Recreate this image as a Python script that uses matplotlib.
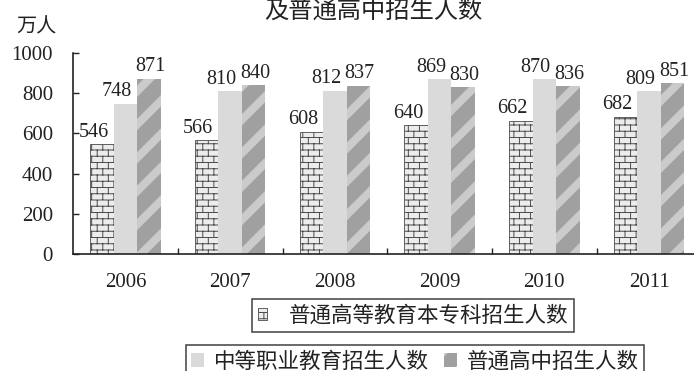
import warnings
import numpy as np
import matplotlib
matplotlib.use('Agg')
import matplotlib.pyplot as plt
from matplotlib import hatch as mhatch
from matplotlib.path import Path
from matplotlib.patches import Patch

warnings.filterwarnings('ignore')

# ---------------- data ----------------
years = ['2006', '2007', '2008', '2009', '2010', '2011']
higher_edu = [546, 566, 608, 640, 662, 682]      # 普通高等教育本专科招生人数
vocational = [748, 810, 812, 869, 870, 809]      # 中等职业教育招生人数
high_school = [871, 840, 837, 830, 836, 851]     # 普通高中招生人数
series_names = ['普通高等教育本专科招生人数', '中等职业教育招生人数', '普通高中招生人数']
yticks = [0, 200, 400, 600, 800, 1000]
title_text = '及普通高中招生人数'
unit_text = '万人'

# ---------------- custom hatches ----------------
class BrickHatch(mhatch.HatchPatternBase):
    def __init__(self, hatch, density):
        self.rows = 16 if 'B' in hatch else 0
        self.cols = 9
        self.num_vertices = ((self.rows + 1) * 2 + self.rows * self.cols * 2) if self.rows else 0

    def set_vertices_and_codes(self, vertices, codes):
        R, C = self.rows, self.cols
        h, w = 1.0 / R, 1.0 / C
        v = []
        for r in range(R + 1):
            v += [(0.0, r * h), (1.0, r * h)]
        for r in range(R):
            off = 0.25 if r % 2 == 0 else 0.75
            for c in range(C):
                xx = (c + off) * w
                v += [(xx, r * h), (xx, (r + 1) * h)]
        vertices[:] = np.array(v)
        codes[0::2] = Path.MOVETO
        codes[1::2] = Path.LINETO


class StripeHatch(mhatch.HatchPatternBase):
    def __init__(self, hatch, density):
        self.k = 3 if 'S' in hatch else 0
        self.offsets = [i / self.k for i in range(-self.k - 1, self.k + 1)] if self.k else []
        self.num_vertices = len(self.offsets) * 5

    def set_vertices_and_codes(self, vertices, codes):
        bw = 0.10
        v = []
        for c in self.offsets:
            v += [(-0.2, -0.2 + c), (1.2, 1.2 + c), (1.2, 1.2 + c + bw),
                  (-0.2, -0.2 + c + bw), (-0.2, -0.2 + c)]
        vertices[:] = np.array(v)
        codes[0::5] = Path.MOVETO
        codes[1::5] = Path.LINETO
        codes[2::5] = Path.LINETO
        codes[3::5] = Path.LINETO
        codes[4::5] = Path.CLOSEPOLY


mhatch._hatch_types.append(BrickHatch)
mhatch._hatch_types.append(StripeHatch)
mhatch._validate_hatch_pattern = lambda h: None

plt.rcParams['hatch.linewidth'] = 0.7
plt.rcParams['font.family'] = ['Liberation Serif', 'Noto Sans CJK SC', 'DejaVu Sans']

CJK = ['Noto Sans CJK SC', 'DejaVu Sans']
SERIF = 'Liberation Serif'
DARK = '#222222'

styles = [
    dict(facecolor='#ececec', edgecolor='#4a4a4a', linewidth=0.6, hatch='B'),
    dict(facecolor='#dadada', edgecolor='#dadada', linewidth=0),
    dict(facecolor='#a0a0a0', edgecolor='#cbcbcb', linewidth=0, hatch='S'),
]
label_shift_pt = [-6.0, -6.2, 1.0]   # horizontal nudge of value labels per series

W, H = 694, 371
fig = plt.figure(figsize=(W / 100, H / 100), dpi=100)
fig.patch.set_facecolor('white')

ax_left, ax_right = 73, 73 + 6 * 104.75
ax_top, ax_bottom = 53, 254
ax = fig.add_axes([ax_left / W, 1 - ax_bottom / H, (ax_right - ax_left) / W, (ax_bottom - ax_top) / H])

x = np.arange(len(years))
bw = 0.224
all_series = [higher_edu, vocational, high_school]
for i, (vals, st) in enumerate(zip(all_series, styles)):
    xs = x + (i - 1) * bw
    ax.bar(xs, vals, width=bw, zorder=2, **st)
    for xi, v in zip(xs, vals):
        ax.annotate(str(v), (xi, v), xytext=(label_shift_pt[i], 8.6), textcoords='offset points',
                    ha='center', va='center', fontsize=14.5, family=SERIF,
                    color=DARK, annotation_clip=False)

ax.set_xlim(-0.5, len(years) - 0.5)
ax.set_ylim(0, 1000)
ax.set_yticks(yticks)
ax.set_yticklabels([str(t) for t in yticks], family=SERIF, fontsize=15, color=DARK)
ax.set_xticks(x)
ax.set_xticklabels(years, family=SERIF, fontsize=15, color=DARK)
ax.set_xticks(x[:-1] + 0.5, minor=True)
ax.tick_params(axis='y', direction='in', length=4, width=1.0, color=DARK, pad=14.4)
ax.tick_params(axis='x', which='major', length=0, pad=13.5)
ax.tick_params(axis='x', which='minor', direction='in', length=4, width=1.0, color=DARK)
for s in ['top', 'right']:
    ax.spines[s].set_visible(False)
for s in ['left', 'bottom']:
    ax.spines[s].set_color(DARK)
    ax.spines[s].set_linewidth(1.2)

# title (second line of the original heading) and unit label
fig.text(373 / W, 1 - 11.5 / H, title_text, ha='center', va='center', fontsize=17.5,
         family=CJK, color=DARK)
fig.text(36 / W, 1 - 27 / H, unit_text, ha='center', va='center', fontsize=14.5,
         family=CJK, color=DARK)

handles = [Patch(label=n, **st) for n, st in zip(series_names, styles)]
leg_kw = dict(frameon=True, fancybox=False, borderpad=0.25, borderaxespad=0,
              prop={'family': CJK, 'size': 15.5}, labelcolor=DARK)
leg1 = fig.legend(handles=handles[:1], loc='center', handlelength=0.45, handleheight=0.5,
                  handletextpad=1.0, bbox_to_anchor=(413 / W, 1 - 315.5 / H), **leg_kw)
leg2 = fig.legend(handles=handles[1:], loc='center', ncol=2, columnspacing=0.7,
                  handlelength=0.6, handleheight=0.6, handletextpad=0.45,
                  bbox_to_anchor=(415 / W, 1 - 361.5 / H), **leg_kw)
for lg in (leg1, leg2):
    lg.get_frame().set_edgecolor(DARK)
    lg.get_frame().set_linewidth(1.2)

fig.savefig('out.png', dpi=100, facecolor='white')
